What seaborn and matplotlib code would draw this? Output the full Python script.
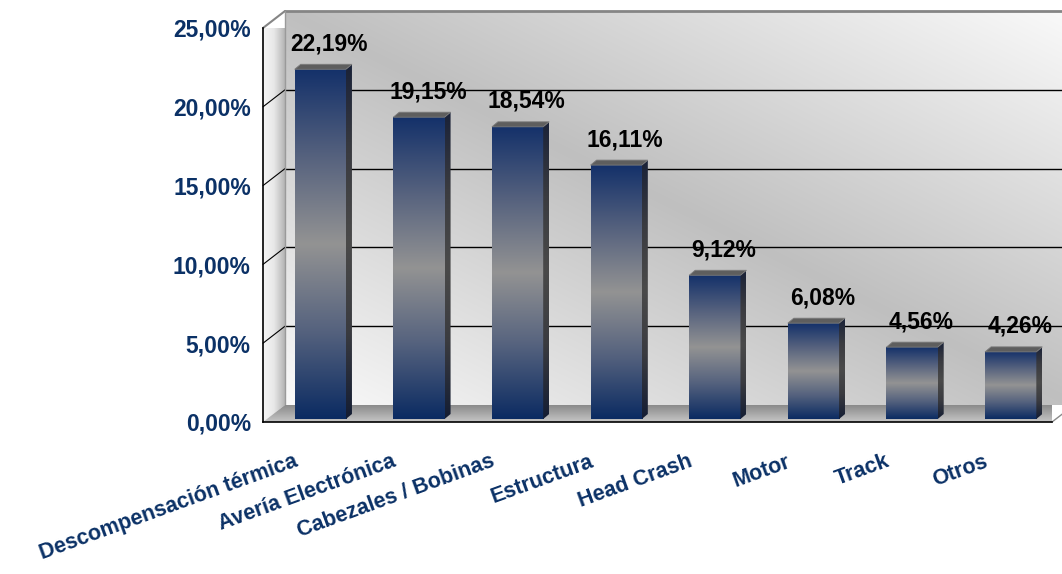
import numpy as np
import pandas as pd
import matplotlib
matplotlib.use('Agg')
import matplotlib.pyplot as plt
import seaborn as sns
from matplotlib.colors import to_rgb
from matplotlib.patches import Polygon
from matplotlib.transforms import ScaledTranslation

categorias = ['Descompensación térmica', 'Avería Electrónica', 'Cabezales / Bobinas',
              'Estructura', 'Head Crash', 'Motor', 'Track', 'Otros']
porcentajes = [22.19, 19.15, 18.54, 16.11, 9.12, 6.08, 4.56, 4.26]
ticks_y = [0, 5, 10, 15, 20, 25]

AZUL = '#0b3166'
PROF_PARED = (22, 17)   # profundidad del fondo, en px
DESP_BARRA = (8, 3)     # las barras van a media profundidad
PROF_BARRA = (6, 5)


def rampa(colores, n=256):
    pos = np.linspace(0, 1, len(colores))
    rgb = np.array([to_rgb(c) for c in colores])
    t = np.linspace(0, 1, n)
    return np.stack([np.interp(t, pos, rgb[:, k]) for k in range(3)], axis=-1)[:, None, :]


def pintar(ax, img, extent, transform, clip, zorder):
    im = ax.imshow(img, extent=extent, origin='lower', transform=transform,
                   aspect='auto', interpolation='bilinear', zorder=zorder)
    im.set_clip_path(clip)
    im.set_clip_box(None)
    return im


sns.set_style('white')
plt.rcParams['font.family'] = ['Liberation Sans', 'DejaVu Sans']

fig = plt.figure(figsize=(10.62, 5.74), dpi=100)
ax = fig.add_axes([263 / 1062, 1 - 422 / 574, 789 / 1062, 394 / 574])

df = pd.DataFrame({'categoria': categorias, 'porcentaje': porcentajes})
sns.barplot(data=df, x='categoria', y='porcentaje', width=0.52, color=AZUL, ax=ax)
barras = list(ax.patches)

n = len(categorias)
ymax = ticks_y[-1]
ax.set_xlim(-0.5, n - 0.5)
ax.set_ylim(0, ymax)
ax.patch.set_visible(False)

def px(dx, dy):
    return ScaledTranslation(dx / fig.dpi, dy / fig.dpi, fig.dpi_scale_trans)

t_fondo = ax.transData + px(*PROF_PARED)
t_barra = ax.transData + px(*DESP_BARRA)
ux = ax.bbox.width / n
uy = ax.bbox.height / ymax
pdx, pdy = PROF_PARED[0] / ux, PROF_PARED[1] / uy
bdx, bdy = PROF_BARRA[0] / ux, PROF_BARRA[1] / uy
x_ini, x_fin = -0.5, n - 0.5

# pared del fondo (degradado diagonal)
U, V = np.meshgrid(np.linspace(0, 1, 300), np.linspace(0, 1, 150))
L = 0.75 + 0.23 * np.abs((U + V) / 2 - 0.5) * 2
pared = np.dstack([L, L, L])
ax.imshow(pared, extent=(x_ini, x_fin, 0, ymax), origin='lower', transform=t_fondo,
          aspect='auto', interpolation='bilinear', zorder=0, clip_on=False)

# pared izquierda
izq = Polygon([(x_ini, 0), (x_ini, ymax), (x_ini + pdx, ymax + pdy), (x_ini + pdx, pdy)],
              closed=True, facecolor='none', edgecolor='none', transform=ax.transData)
ax.add_patch(izq)
izq.set_clip_on(False)
pintar(ax, rampa(['#f6f6f6', '#e8e8e8', '#b4b4b4']).transpose(1, 0, 2),
       (x_ini, x_ini + pdx, 0, ymax + pdy), ax.transData, izq, 0.6)

# suelo
suelo = Polygon([(x_ini, 0), (x_fin, 0), (x_fin + pdx, pdy), (x_ini + pdx, pdy)],
                closed=True, facecolor='none', edgecolor='none', transform=ax.transData)
ax.add_patch(suelo)
suelo.set_clip_on(False)
pintar(ax, rampa(['#c6c6c6', '#a8a8a8', '#8a8a8a']), (x_ini, x_fin + pdx, 0, pdy),
       ax.transData, suelo, 1)

# lineas de division
for v in ticks_y[1:-1]:
    ax.plot([x_ini, x_fin], [v, v], color='black', lw=1, transform=t_fondo,
            zorder=0.5, clip_on=False)
    ax.plot([x_ini, x_ini + pdx], [v, v + pdy], color='black', lw=0.8,
            zorder=0.7, clip_on=False)
ax.plot([x_ini, x_fin], [ymax, ymax], color='#858585', lw=2, transform=t_fondo,
        zorder=0.5, clip_on=False)
ax.plot([x_ini, x_ini + pdx], [ymax, ymax + pdy], color='#858585', lw=1.5,
        zorder=0.7, clip_on=False)
ax.plot([x_ini + pdx, x_ini + pdx], [pdy, ymax + pdy], color='#9a9a9a', lw=1,
        zorder=0.7, clip_on=False)
ax.plot([x_fin, x_fin + pdx], [0, pdy], color='#8a8a8a', lw=1, zorder=1.1, clip_on=False)

# barras con degradado y volumen
frente = rampa(['#0b2b62', '#55627e', '#939393', '#56627e', '#14316a'])
lado = rampa(['#141d33', '#3a3b40', '#4a4a4a', '#3a3b40', '#1a2238'])
for p, v in zip(barras, porcentajes):
    x0, w, h = p.get_x(), p.get_width(), p.get_height()
    p.set_visible(False)
    ax.imshow(frente, extent=(x0, x0 + w, 0, h), origin='lower', transform=t_barra,
              aspect='auto', interpolation='bilinear', zorder=5)
    cara = Polygon([(x0 + w, 0), (x0 + w, h), (x0 + w + bdx, h + bdy), (x0 + w + bdx, bdy)],
                   closed=True, facecolor='none', edgecolor='none', transform=t_barra)
    ax.add_patch(cara)
    pintar(ax, lado, (x0 + w, x0 + w + bdx, 0, h + bdy), t_barra, cara, 5)
    tapa = Polygon([(x0, h), (x0 + w, h), (x0 + w + bdx, h + bdy), (x0 + bdx, h + bdy)],
                   closed=True, facecolor='#5e5e5e', edgecolor='#7c7c7c', lw=0.6,
                   transform=t_barra, zorder=6)
    ax.add_patch(tapa)
    ax.annotate(f'{v:.2f}%'.replace('.', ','), xy=(x0 + w / 2, h), xycoords=t_barra,
                xytext=(9 * 0.72, 19 * 0.72), textcoords='offset points',
                ha='center', va='baseline', fontsize=16.5, fontweight='bold',
                color='black', zorder=10, annotation_clip=False)

# ejes
ax.set_xlabel('')
ax.set_ylabel('')
for lado_eje in ['top', 'right']:
    ax.spines[lado_eje].set_visible(False)
for lado_eje in ['left', 'bottom']:
    ax.spines[lado_eje].set_color('black')
    ax.spines[lado_eje].set_linewidth(1.2)
    ax.spines[lado_eje].set_zorder(4)

ax.set_yticks(ticks_y)
ax.set_yticklabels([f'{v:.2f}%'.replace('.', ',') for v in ticks_y],
                   fontweight='bold', color=AZUL, fontsize=16.5)
ax.tick_params(axis='y', length=5.8, width=1, color='#333333', pad=3)

ax.set_xticks(range(n))
ax.set_xticklabels(categorias, rotation=20, ha='right', rotation_mode='anchor',
                   fontweight='bold', color=AZUL, fontsize=15.5)
ax.set_xticks(np.arange(x_ini, n, 1), minor=True)
ax.tick_params(axis='x', which='major', length=0, pad=21)
ax.tick_params(axis='x', which='minor', length=7, width=1, color='#333333')
for lab in ax.get_xticklabels():
    lab.set_transform(lab.get_transform() + px(-19, 0))

ax.set_xlim(x_ini, x_fin)
ax.set_ylim(0, ymax)

fig.savefig('out.png', dpi=100)
